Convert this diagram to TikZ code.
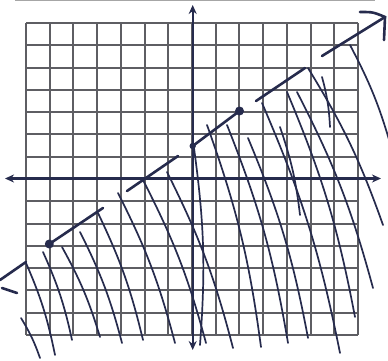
\documentclass[tikz,border=0pt]{standalone}
\usetikzlibrary{arrows.meta}
\definecolor{ink}{HTML}{262B4D}
\definecolor{gridc}{HTML}{5E5E63}
\begin{document}
\begin{tikzpicture}[x=1pt,y=-1pt,
  gridline/.style={draw=gridc,line width=1.9pt},
  axisline/.style={draw=ink,line width=2.4pt,{Stealth[length=9pt,width=8pt]}-{Stealth[length=9pt,width=8pt]}},
  bound/.style={draw=ink,line width=2.6pt,line cap=round},
  hatch/.style={draw=ink,line width=1.7pt,line cap=round,bend left=6},
  dotmark/.style={fill=ink}]
\useasboundingbox (0,0) rectangle (388,361);
\fill[white] (0,0) rectangle (388,361);
\draw[draw=gray!70,line width=2pt] (15,0.5) -- (375,0.5);
% grid
\foreach \i in {0,...,14} \draw[gridline] ({26+23.714*\i},23) -- ({26+23.714*\i},335);
\foreach \j in {0,...,14} \draw[gridline] (26,{23+22.286*\j}) -- (358,{23+22.286*\j});
% hatching
\foreach \a/\b/\c/\d in {21/318/40/358, 26/263/55/355, 43/252/72/340, 62/247/100/337,
  80/232/122/343, 98/213/143/340, 118/193/175/343, 143/180/206/343, 167/172/233/348,
  194/148/200/345, 207/125/261/347, 227/125/288/343, 248/138/308/338, 262/103/340/353,
  280/127/300/215, 287/92/355/317, 297/92/373/288, 308/68/383/225, 322/77/330/127,
  350/45/392/150}
  \draw[hatch] (\a,\b) to (\c,\d);
% axes
\draw[axisline] (5,178.5) -- (381,178.5);
\draw[axisline] (192.7,5) -- (192.7,350);
% boundary line (dashed by hand)
\coordinate (P1) at (49.3,244);
\coordinate (P2) at (239.5,111);
\coordinate (L0) at (0,280);
\coordinate (L1) at (26,262);
\coordinate (T) at (385,17);
\draw[bound] (L0) -- (L1);
\draw[bound] (2,288) -- (17,293);
\draw[bound] (P1) -- (103,208);
\draw[bound] (127,191) -- (178,156);
\draw[bound] (192.7,146) -- (P2);
\draw[bound] (256,101) -- (305,68);
\draw[bound] (322,56) -- (T);
\draw[bound] (360,12) .. controls (373,12) .. (T) -- (384,40);
\fill[dotmark] (P1) circle (4.5);
\fill[dotmark] (P2) circle (4.5);
\fill[dotmark] (192.7,146) circle (3.2);
\end{tikzpicture}
\end{document}
